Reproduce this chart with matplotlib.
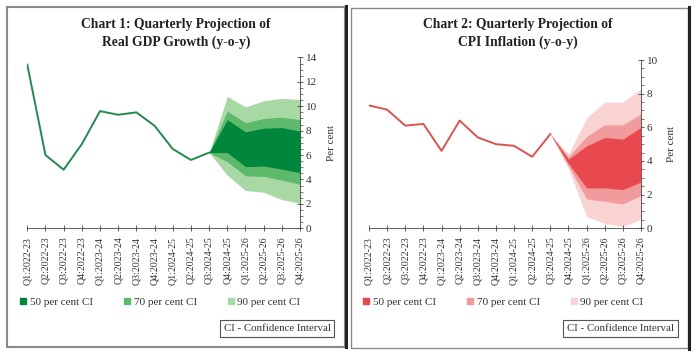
import matplotlib
matplotlib.use("Agg")
import matplotlib.pyplot as plt
from matplotlib.patches import Rectangle
from matplotlib.lines import Line2D
from matplotlib.ticker import MultipleLocator

plt.rcParams['font.family'] = ['Liberation Serif', 'DejaVu Serif']

quarters = ['Q1:2022-23', 'Q2:2022-23', 'Q3:2022-23', 'Q4:2022-23',
            'Q1:2023-24', 'Q2:2023-24', 'Q3:2023-24', 'Q4:2023-24',
            'Q1:2024-25', 'Q2:2024-25', 'Q3:2024-25', 'Q4:2024-25',
            'Q1:2025-26', 'Q2:2025-26', 'Q3:2025-26', 'Q4:2025-26']

# Chart 1: GDP
gdp_actual = [13.4, 6.0, 4.8, 6.9, 9.6, 9.3, 9.5, 8.4, 6.5, 5.6, 6.2]
gdp_90_hi = [6.2, 10.8, 9.95, 10.45, 10.65, 10.55]
gdp_70_hi = [6.2, 9.6, 8.65, 9.0, 9.1, 8.9]
gdp_50_hi = [6.2, 8.9, 7.9, 8.2, 8.25, 7.95]
gdp_50_lo = [6.2, 6.2, 5.05, 5.1, 4.85, 4.55]
gdp_70_lo = [6.2, 5.45, 4.3, 4.25, 3.95, 3.6]
gdp_90_lo = [6.2, 4.35, 3.1, 2.95, 2.35, 2.05]

# Chart 2: CPI
cpi_actual = [7.3, 7.05, 6.1, 6.2, 4.6, 6.4, 5.4, 5.0, 4.9, 4.25, 5.6]
cpi_90_hi = [5.6, 4.4, 6.55, 7.5, 7.5, 8.3]
cpi_70_hi = [5.6, 4.25, 5.45, 6.15, 6.15, 6.8]
cpi_50_hi = [5.6, 4.1, 4.9, 5.4, 5.3, 6.0]
cpi_50_lo = [5.6, 3.85, 2.4, 2.4, 2.3, 2.75]
cpi_70_lo = [5.6, 3.7, 1.75, 1.6, 1.45, 1.95]
cpi_90_lo = [5.6, 3.55, 0.7, 0.3, 0.1, 0.55]

legend_labels = ['50 per cent CI', '70 per cent CI', '90 per cent CI']

W, H = 697, 357
fig = plt.figure(figsize=(W / 100, H / 100), dpi=100)
fig.patch.set_facecolor('white')


def px_axes(x0, x1, y_top, y_bot):
    return fig.add_axes([x0 / W, 1 - y_bot / H, (x1 - x0) / W, (y_bot - y_top) / H])


def draw(ax, actual, bands, line_color, band_colors, ymax, title, title_x,
         leg_x, box_x):
    n_act = len(actual)
    xa = list(range(n_act))
    xf = list(range(n_act - 1, len(quarters)))
    hi90, hi70, hi50, lo50, lo70, lo90 = bands
    ax.fill_between(xf, lo90, hi90, color=band_colors[2], lw=0, zorder=1)
    ax.fill_between(xf, lo70, hi70, color=band_colors[1], lw=0, zorder=2)
    ax.fill_between(xf, lo50, hi50, color=band_colors[0], lw=0, zorder=3)
    ax.plot(xa, actual, color=line_color, lw=1.4, zorder=4)
    ax.set_xlim(0, len(quarters) - 1)
    ax.set_ylim(0, ymax)
    for s in ['top', 'left']:
        ax.spines[s].set_visible(False)
    for s in ['bottom', 'right']:
        ax.spines[s].set_color('#444444')
        ax.spines[s].set_linewidth(0.6)
    ax.yaxis.tick_right()
    ax.yaxis.set_label_position('right')
    ax.yaxis.set_major_locator(MultipleLocator(2))
    ax.yaxis.set_minor_locator(MultipleLocator(0.5))
    ax.set_xticks(range(len(quarters)))
    ax.set_xticklabels(quarters, rotation=90, fontsize=7.2, color='#333333')
    ax.tick_params(axis='x', direction='inout', length=4, width=0.6,
                   color='#444444', pad=4)
    ax.tick_params(axis='y', which='major', direction='inout', length=4,
                   width=0.6, color='#444444', labelsize=8,
                   labelcolor='#333333', pad=2)
    ax.tick_params(axis='y', which='minor', direction='out', length=2,
                   width=0.5, color='#444444')
    ax.set_ylabel('Per cent', fontsize=8, color='#333333', labelpad=7)
    ax.set_facecolor('white')
    fig.text(title_x / W, 1 - 33.5 / H, title, ha='center', va='center',
             fontsize=9.8, fontweight='bold', color='#222222',
             linespacing=1.35)
    handles = [Line2D([0], [0], marker='s', ls='none', markersize=5,
                      markerfacecolor=c, markeredgecolor=c)
               for c in band_colors]
    fig.legend(handles, legend_labels, loc='center left',
               bbox_to_anchor=(leg_x / W, 1 - 302 / H), ncol=3, frameon=False,
               fontsize=8, handlelength=0.6, handletextpad=0.3,
               columnspacing=2.75, borderpad=0, borderaxespad=0,
               labelcolor='#333333')
    fig.text(box_x / W, 1 - 328.5 / H, 'CI - Confidence Interval',
             ha='center', va='center', fontsize=7.8, color='#333333',
             bbox=dict(boxstyle='square,pad=0.35', fc='white',
                       ec='#555555', lw=0.8))


# Panel borders
fig.add_artist(Rectangle((7 / W, 1 - 346.5 / H), (345 - 7) / W, (346.5 - 7) / H,
                         transform=fig.transFigure, fill=False,
                         ec='#8a8a8a', lw=1.5))
fig.add_artist(Line2D([345.5 / W, 345.5 / W], [1 - 347 / H, 1 - 6 / H],
                      transform=fig.transFigure, color='#222222', lw=2.2))
fig.add_artist(Rectangle((351 / W, 1 - 348 / H), (688 - 351) / W, (348 - 8) / H,
                         transform=fig.transFigure, fill=False,
                         ec='#8a8a8a', lw=1.0))
fig.add_artist(Line2D([688.5 / W, 688.5 / W], [1 - 349 / H, 1 - 7 / H],
                      transform=fig.transFigure, color='#222222', lw=2.2))

ax1 = px_axes(27.3, 300, 57.4, 228.3)
draw(ax1, gdp_actual,
     [gdp_90_hi, gdp_70_hi, gdp_50_hi, gdp_50_lo, gdp_70_lo, gdp_90_lo],
     '#23894e', ['#00873d', '#5cba6a', '#a8d9a5'], 14,
     'Chart 1: Quarterly Projection of\nReal GDP Growth (y-o-y)', 176,
     20, 277)

ax2 = px_axes(369, 641, 60, 228.3)
draw(ax2, cpi_actual,
     [cpi_90_hi, cpi_70_hi, cpi_50_hi, cpi_50_lo, cpi_70_lo, cpi_90_lo],
     '#d9534f', ['#e8494e', '#f29b9c', '#f9d2d2'], 10,
     'Chart 2: Quarterly Projection of\nCPI Inflation (y-o-y)', 518,
     363, 620.5)

fig.savefig('out.png', dpi=100, facecolor='white')
